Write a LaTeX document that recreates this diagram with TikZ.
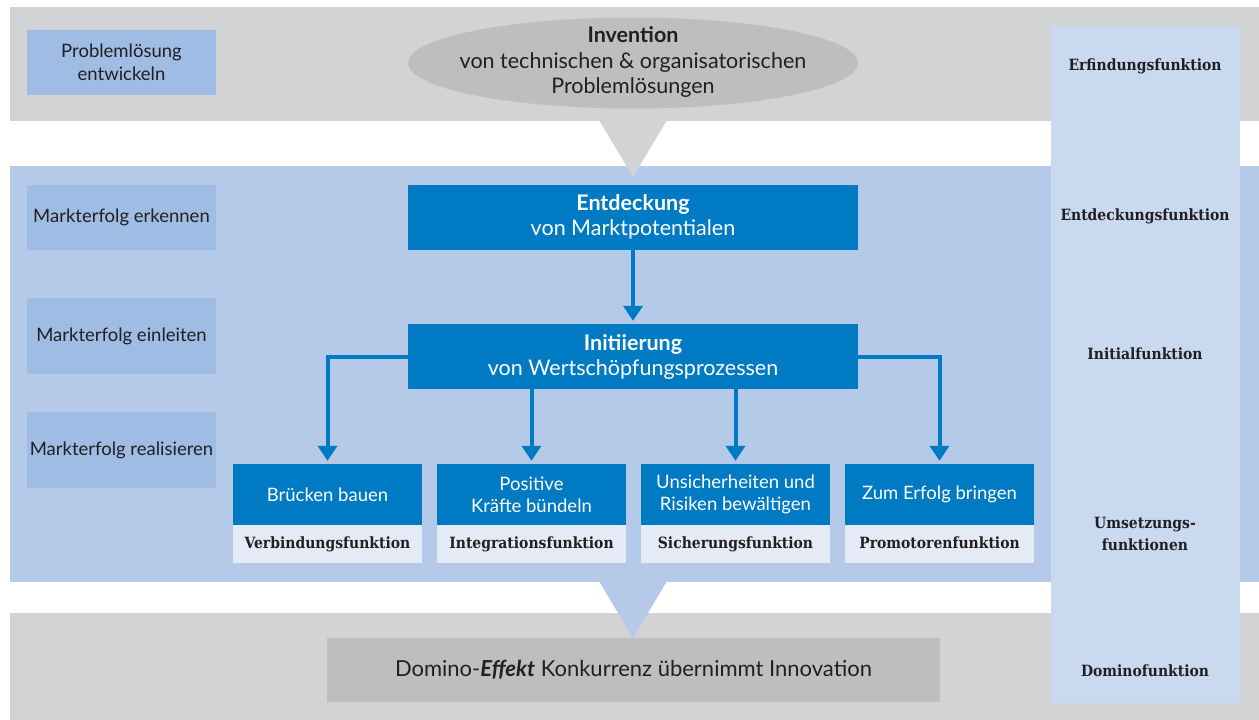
\documentclass[tikz,border=0pt]{standalone}
\usepackage{fontspec}
\setmainfont{Lato}
\newfontfamily\slab{DejaVu Serif Condensed}
\usetikzlibrary{arrows.meta,shapes.geometric}
\definecolor{bandgray}{HTML}{D1D3D5}
\definecolor{darkgray}{HTML}{BDBEC0}
\definecolor{bandblue}{HTML}{B4CAE8}
\definecolor{leftblue}{HTML}{9FBCE4}
\definecolor{colblue}{HTML}{C9D9F0}
\definecolor{mainblue}{HTML}{007AC2}
\definecolor{lightblue}{HTML}{E4EAF6}
\definecolor{txt}{HTML}{231F20}
\tikzset{
  leftbox/.style={fill=leftblue,minimum width=189pt,inner sep=0pt,align=center,text=txt,font=\fontsize{18.5}{23}\selectfont},
  mainbox/.style={fill=mainblue,minimum width=450pt,minimum height=65pt,inner sep=0pt,align=center,text=white,font=\fontsize{21.5}{25}\selectfont},
  topbox/.style={fill=mainblue,minimum width=189pt,minimum height=61pt,inner sep=0pt,align=center,text=white,font=\fontsize{18.5}{22}\selectfont},
  funcbox/.style={fill=lightblue,minimum width=189pt,minimum height=38pt,inner sep=0pt,text height=11.5pt,text depth=3.5pt,align=center,text=txt,font=\slab\bfseries\fontsize{15.5}{18}\selectfont},
  collabel/.style={align=center,text=txt,font=\slab\bfseries\fontsize{15.5}{22}\selectfont},
  arr/.style={draw=mainblue,line width=4pt,-{Triangle[length=15pt,width=19pt]},shorten >=3pt}
}
\begin{document}
\begin{tikzpicture}[x=1pt,y=-1pt]
\useasboundingbox (0,0) rectangle (1259,720);
\fill[white] (0,0) rectangle (1259,720);
% bands
\fill[bandgray] (10,7) rectangle (1259,121);
\fill[bandblue] (10,166) rectangle (1259,582);
\fill[bandgray] (10,613) rectangle (1259,720);
% triangles
\fill[bandgray] (599,120) -- (667,120) -- (633,177) -- cycle;
\fill[bandblue] (599,581) -- (667,581) -- (633,638) -- cycle;
% right column
\fill[colblue] (1051,26) rectangle (1240,703);
\node[collabel] (cf1) at (1145,66) {Erfindungsfunktion};
\node[collabel] (cf2) at (1145,216) {Entdeckungsfunktion};
\node[collabel] (cf3) at (1145,354) {Initialfunktion};
\node[collabel] (cf4) at (1145,534) {Umsetzungs-\\funktionen};
\node[collabel] (cf5) at (1145,671) {Dominofunktion};
% left boxes
\node[leftbox,minimum height=65pt] (l1) at (121.5,62.5) {Problemlösung\\entwickeln};
\node[leftbox,minimum height=65pt] (l2) at (121.5,217.5) {Markterfolg erkennen};
\node[leftbox,minimum height=76pt] (l3) at (121.5,336) {Markterfolg einleiten};
\node[leftbox,minimum height=76pt] (l4) at (121.5,450) {Markterfolg realisieren};
% ellipse
\node[ellipse,fill=darkgray,minimum width=450pt,minimum height=91pt,inner sep=0pt] (inv) at (633,63) {};
\node[align=center,text=txt,inner sep=0pt,font=\fontsize{21.5}{25.5}\selectfont] (invtext) at (633,62)
  {\textbf{Invention}\\von technischen \& organisatorischen\\Problemlösungen};
% main boxes
\node[mainbox] (ent) at (633,217) {\textbf{Entdeckung}\\von Marktpotentialen};
\node[mainbox] (ini) at (633,356.5) {\textbf{Initiierung}\\von Wertschöpfungsprozessen};
% lower boxes
\node[topbox] (b1) at (327.5,494.5) {Brücken bauen};
\node[topbox] (b2) at (531.5,494.5) {Positive\\Kräfte bündeln};
\node[topbox] (b3) at (735.5,494.5) {Unsicherheiten und\\Risiken bewältigen};
\node[topbox] (b4) at (939.5,494.5) {Zum Erfolg bringen};
\node[funcbox,anchor=north] (f1) at (b1.south) {Verbindungsfunktion};
\node[funcbox,anchor=north] (f2) at (b2.south) {Integrationsfunktion};
\node[funcbox,anchor=north] (f3) at (b3.south) {Sicherungsfunktion};
\node[funcbox,anchor=north] (f4) at (b4.south) {Promotorenfunktion};
% domino
\node[fill=darkgray,minimum width=613pt,minimum height=64pt,inner sep=0pt,text=txt,font=\fontsize{22}{26}\selectfont] (dom) at (633.5,670)
  {Domino-\textbf{\textit{Effekt}} Konkurrenz übernimmt Innovation};
% arrows
\draw[arr] (ent.south) -- (ini.north);
\draw[arr] (ini.west) -| (b1.north);
\draw[arr] (ini.south -| b2.north) -- (b2.north);
\draw[arr] (ini.south -| b3.north) -- (b3.north);
\draw[arr] (ini.east) -| (b4.north);
\end{tikzpicture}
\end{document}
